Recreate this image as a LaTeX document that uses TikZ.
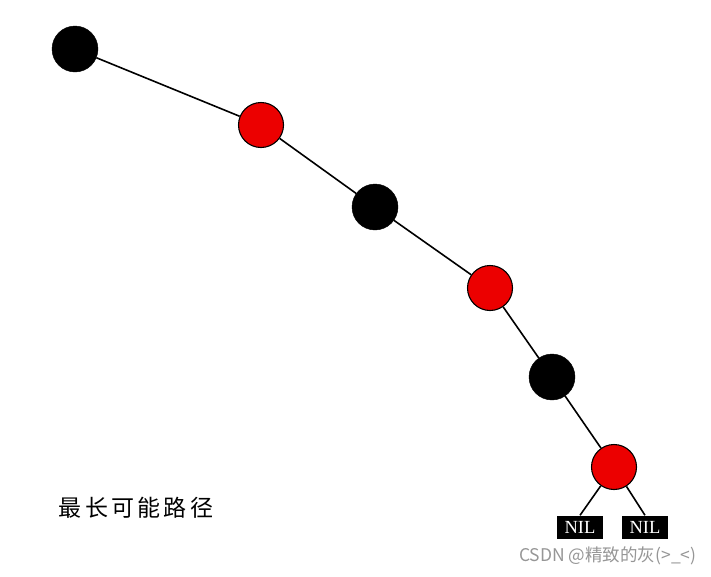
\documentclass[tikz,border=0pt]{standalone}
\usepackage{fontspec}
\setmainfont{Liberation Serif}
\newfontfamily\cjk{Noto Sans CJK SC}
\newfontfamily\cjktitle[LetterSpace=14]{Noto Sans CJK SC}
\usepackage{tikz}
\usetikzlibrary{calc}
\definecolor{rbred}{RGB}{236,0,0}
\definecolor{markgray}{RGB}{150,150,150}
\tikzset{
  blacknode/.style={circle,draw=black,fill=black,minimum size=46pt,inner sep=0pt},
  rednode/.style={circle,draw=black,line width=1.1pt,fill=rbred,minimum size=45pt,inner sep=0pt},
  nilbox/.style={rectangle,fill=black,text=white,minimum width=46pt,minimum height=23pt,inner sep=0pt,font=\fontsize{18.5}{18.5}\selectfont},
  edge/.style={line width=1.6pt,black}
}
\begin{document}
\begin{tikzpicture}[x=1pt,y=-1pt]
	%the frame
	\useasboundingbox (0,0) rectangle (711,576);
	%the longest path
	\node[blacknode] (b1) at (75,49) {};
	\node[rednode]   (r1) at (261,125) {};
	\node[blacknode] (b2) at (375,207) {};
	\node[rednode]   (r2) at (490,288) {};
	\node[blacknode] (b3) at (552,377) {};
	\node[rednode]   (r3) at (614,467) {};
	%leaves
	\node[nilbox] (nilL) at (580,527) {NIL};
	\node[nilbox] (nilR) at (645,527) {NIL};
	\draw[edge] (b1)--(r1);
	\draw[edge] (r1)--(b2);
	\draw[edge] (b2)--(r2);
	\draw[edge] (r2)--(b3);
	\draw[edge] (b3)--(r3);
	\draw[edge] (r3)--(nilL.north);
	\draw[edge] (r3)--(nilR.north);
	%texts
	\node (title) at (136,508) {\cjktitle\fontsize{23}{23}\selectfont 最长可能路径};
	\node[anchor=west,text=markgray,inner sep=0pt] (mark) at (519,556) {\cjk\fontsize{17.5}{17.5}\selectfont CSDN @精致的灰(>\_<)};
\end{tikzpicture}
\end{document}
